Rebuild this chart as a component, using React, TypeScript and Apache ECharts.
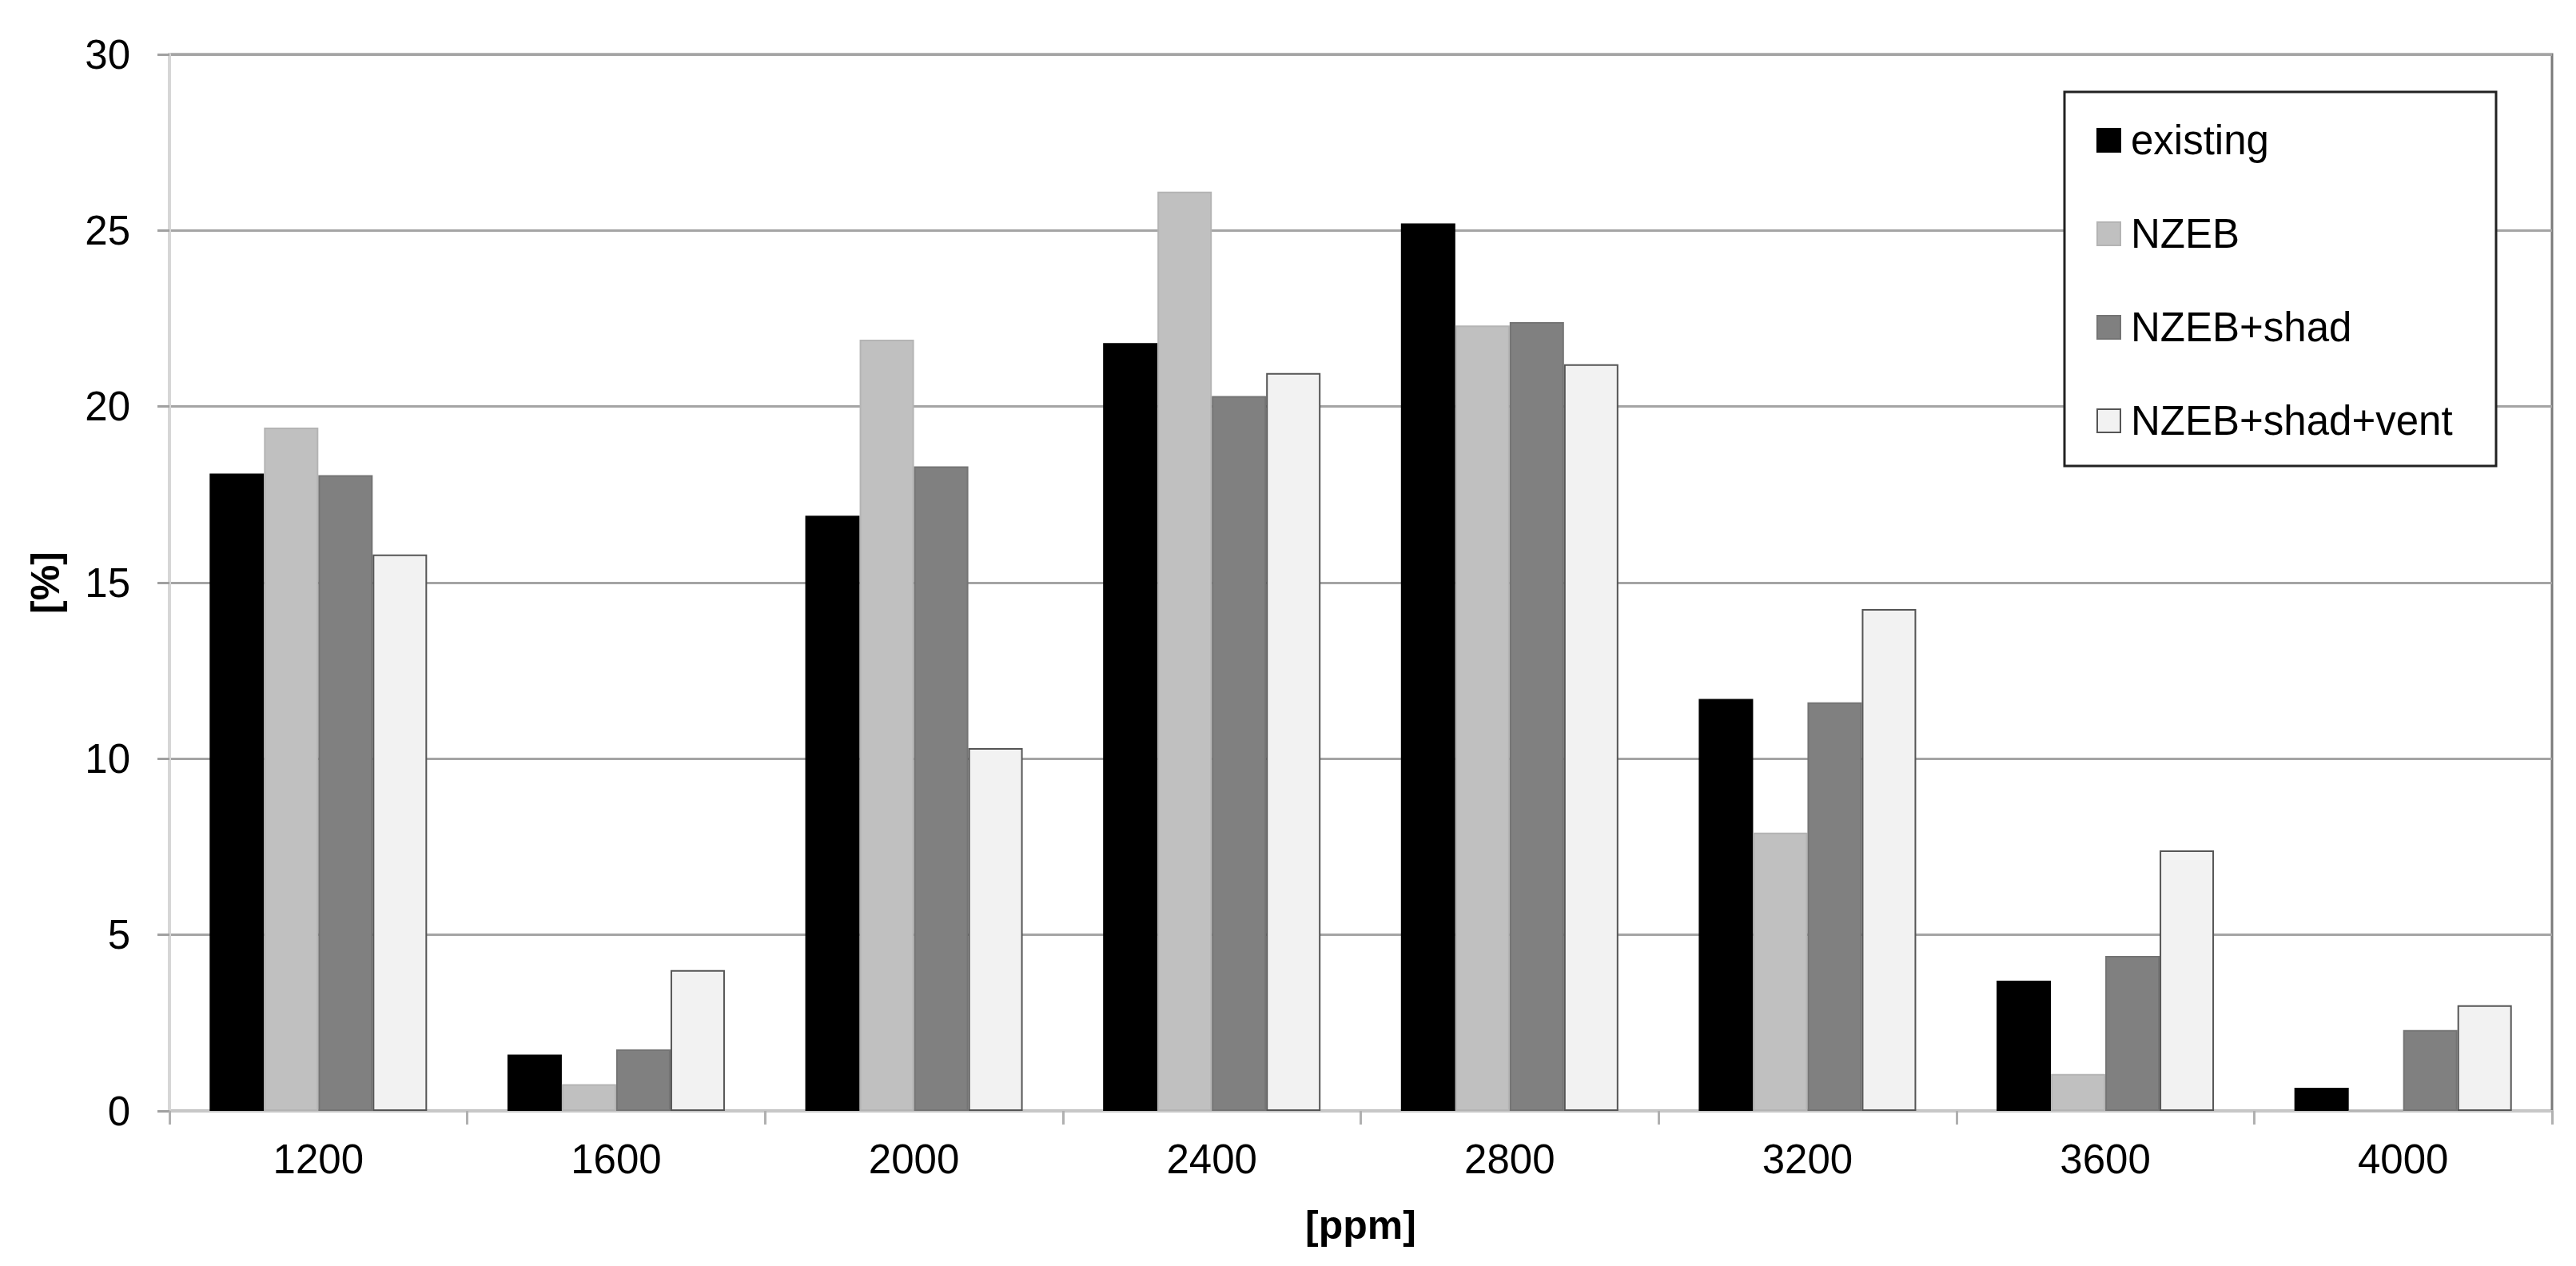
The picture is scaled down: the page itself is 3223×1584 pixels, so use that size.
import React, { useEffect, useRef } from "react";
import * as echarts from "echarts";

const categories = ["1200", "1600", "2000", "2400", "2800", "3200", "3600", "4000"];
const seriesNames = ["existing", "NZEB", "NZEB+shad", "NZEB+shad+vent"];
const existing = [18.1, 1.6, 16.9, 21.8, 25.2, 11.7, 3.7, 0.66];
const nzeb = [19.4, 0.76, 21.9, 26.1, 22.3, 7.9, 1.05, 0];
const nzebShad = [18.05, 1.75, 18.3, 20.3, 22.4, 11.6, 4.4, 2.3];
const nzebShadVent = [15.8, 4.0, 10.3, 20.95, 21.2, 14.25, 7.4, 3.0];
const yTicks = { min: 0, max: 30, interval: 5 };

const fills = ["#000000", "#c0c0c0", "#808080", "#f2f2f2"];
const borders = ["#000000", "#b4b4b4", "#747474", "#555555"];

const FONT = "'Liberation Sans', Arial, sans-serif";

export default function App() {
  const ref = useRef<HTMLDivElement>(null);
  useEffect(() => {
    if (!ref.current) return;
    const chart = echarts.init(ref.current, undefined, { renderer: "svg" });
    const values = [existing, nzeb, nzebShad, nzebShadVent];
    chart.setOption({
      animation: false,
      backgroundColor: "#ffffff",
      textStyle: { fontFamily: FONT },
      grid: {
        left: 212,
        right: 30,
        top: 68,
        bottom: 194,
        show: true,
        borderColor: "#7a7a7a",
        borderWidth: 3,
        backgroundColor: "transparent",
      },
      xAxis: {
        type: "category",
        data: categories,
        boundaryGap: true,
        name: "[ppm]",
        nameLocation: "middle",
        nameGap: 118,
        nameTextStyle: { fontSize: 50, fontWeight: "bold", color: "#000", fontFamily: FONT },
        axisLine: { show: true, lineStyle: { color: "#c8c8c8", width: 3 } },
        axisTick: { show: true, interval: 0, alignWithLabel: false, length: 17, lineStyle: { color: "#b0b0b0", width: 3 } },
        axisLabel: { fontSize: 51, color: "#000", margin: 35, interval: 0, fontFamily: FONT },
        splitLine: { show: false },
      },
      yAxis: {
        type: "value",
        min: yTicks.min,
        max: yTicks.max,
        interval: yTicks.interval,
        name: "[%]",
        nameLocation: "middle",
        nameGap: 130,
        nameRotate: 90,
        nameTextStyle: { fontSize: 50, fontWeight: "bold", color: "#000", fontFamily: FONT },
        axisLine: { show: true, lineStyle: { color: "#d6d6d6", width: 4 } },
        axisTick: { show: true, length: 15, lineStyle: { color: "#a0a0a0", width: 3 } },
        axisLabel: { fontSize: 51, color: "#000", margin: 49, fontFamily: FONT },
        splitLine: { show: true, lineStyle: { color: "#a4a4a4", width: 3 } },
      },
      legend: {
        orient: "vertical",
        left: 2623,
        top: 150,
        padding: 0,
        itemWidth: 29,
        itemHeight: 29,
        itemGap: 66,
        z: 20,
        icon: "rect",
        data: seriesNames,
        textStyle: { fontSize: 51, color: "#000", fontFamily: FONT, padding: [0, 0, 0, 8] },
      },
      graphic: [
        {
          type: "rect",
          z: 15,
          shape: { x: 2583, y: 115, width: 540, height: 468 },
          style: { fill: "#ffffff", stroke: "#222222", lineWidth: 3 },
        },
      ],
      series: seriesNames.map((name, i) => ({
        name,
        type: "bar",
        data: values[i],
        barGap: "0%",
        barCategoryGap: "27%",
        itemStyle: { color: fills[i], borderColor: borders[i], borderWidth: 2 },
      })),
    });
    return () => chart.dispose();
  }, []);
  return (
    <div
      ref={ref}
      style={{ position: "absolute", left: 0, top: 0, width: 3223, height: 1584, background: "#fff" }}
    />
  );
}
